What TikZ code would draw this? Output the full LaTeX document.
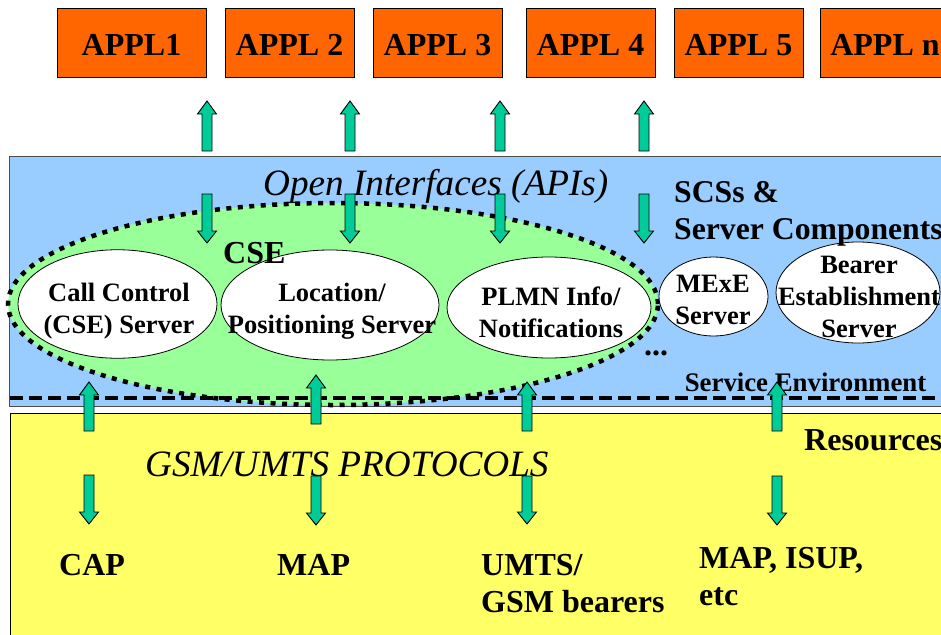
\documentclass[tikz,border=0pt]{standalone}
\usepackage{fontspec}
\setmainfont{Liberation Serif}
\usetikzlibrary{shapes.geometric}
\definecolor{appl}{HTML}{FF6600}
\definecolor{bandblue}{HTML}{99CCFF}
\definecolor{cse}{HTML}{99FF99}
\definecolor{yel}{HTML}{FFFF66}
\definecolor{arr}{HTML}{00CC99}
\tikzset{x=1pt,y=-1pt,
  applbox/.style={draw=black,fill=appl,line width=0.9pt,text height=48pt,text depth=21pt,inner sep=0,outer sep=0,anchor=base,font=\bfseries\fontsize{32}{32}\selectfont},
  srv/.style={draw=black,fill=white,ellipse,line width=0.8pt,inner sep=0},
  srvtext/.style={inner sep=0,align=center,font=\bfseries\fontsize{26.5}{32}\selectfont},
  lbl/.style={inner sep=0,align=left,font=\bfseries\fontsize{32}{37}\selectfont},
  ital/.style={inner sep=0,font=\itshape\fontsize{37.2}{37}\selectfont},
  arrowshape/.style={draw=black,fill=arr,line width=0.9pt}}
\newcommand{\uparr}[3]{\draw[arrowshape] (#1-5,#3) -- (#1-5,#2+13) -- (#1-9.5,#2+13) -- (#1,#2) -- (#1+9.5,#2+13) -- (#1+5,#2+13) -- (#1+5,#3) -- cycle;}
\newcommand{\dnarr}[3]{\draw[arrowshape] (#1-5,#2) -- (#1-5,#3-12) -- (#1-9.5,#3-12) -- (#1,#3) -- (#1+9.5,#3-12) -- (#1+5,#3-12) -- (#1+5,#2) -- cycle;}
\begin{document}
\begin{tikzpicture}
\useasboundingbox (0,0) rectangle (941,634);
\path[fill=white] (0,0) rectangle (941,634);
% application boxes
\node[applbox,minimum width=149pt] (a1) at (131.5,56) {APPL1};
\node[applbox,minimum width=129pt] (a2) at (289.5,56) {APPL 2};
\node[applbox,minimum width=129pt] (a3) at (437.5,56) {APPL 3};
\node[applbox,minimum width=129pt] (a4) at (590.5,56) {APPL 4};
\node[applbox,minimum width=129pt] (a5) at (738.5,56) {APPL 5};
\node[applbox,minimum width=130pt] (an) at (885,56) {APPL n};
% bands
\path[draw=black!70,fill=bandblue,line width=0.9pt] (9.5,156) -- (950,156) -- (950,406) -- (9.5,406) -- cycle;
\path[draw=black,fill=yel,line width=0.9pt] (10,413) -- (950,413) -- (950,650) -- (10,650) -- cycle;
\foreach \x in {207,350,500,644}{ \uparr{\x}{101}{151} }
\node[ital,anchor=base west] (oi) at (263,195) {Open Interfaces (APIs)};
% CSE region
\node[ellipse,fill=cse,draw=black,line width=4.5pt,outer sep=0,minimum width=650pt,minimum height=202pt,inner sep=0,dash pattern=on 5pt off 6.5pt] (cse) at (333,304) {};
\draw[line width=3.4pt,dash pattern=on 13pt off 6pt] (10,398) -- (941,398);
\foreach \x in {207,350,500,644}{ \dnarr{\x}{194}{243} }
% servers
\node[srv,minimum width=199pt,minimum height=108.5pt] (cc) at (117.5,304) {};
\node[srv,minimum width=218pt,minimum height=110pt] (lp) at (330,305) {};
\node[srv,minimum width=204pt,minimum height=101pt] (pl) at (549,307.5) {};
\node[srv,minimum width=109pt,minimum height=79pt] (me) at (713.5,296.5) {};
\node[srv,minimum width=164pt,minimum height=101pt] (be) at (858,292.5) {};
\node[srvtext,anchor=base] (cct) at (119,333) {Call Control\\(CSE) Server};
\node[srvtext,anchor=base] (lpt) at (332,333) {Location/\\Positioning Server};
\node[srvtext,anchor=base] (plt) at (551,337) {PLMN Info/\\Notifications};
\node[srvtext,anchor=base] (met) at (713,324) {MExE\\Server};
\node[srvtext,anchor=base] (bet) at (859,337) {Bearer\\Establishment\\Server};
\node[lbl,anchor=base west] (cl) at (223,263) {CSE};
\node[lbl,anchor=base west] (dots) at (644,355) {...};
\node[lbl,anchor=base west,font=\bfseries\fontsize{31.7}{37}\selectfont] (scs) at (674,239) {SCSs \&\\Server Components};
\node[inner sep=0,font=\bfseries\fontsize{26.8}{27}\selectfont,anchor=base] (se) at (805.5,391) {Service Environment};
\node[lbl,anchor=base west] (res) at (804,450) {Resources};
\node[ital,anchor=base west] (gsm) at (145,476) {GSM/UMTS PROTOCOLS};
% lower arrows
\foreach \x/\a/\b in {89/382/431,316/375/424,527/382/431,777/382/431}{ \uparr{\x}{\a}{\b} }
\foreach \x/\a/\b in {89/475/524,316/476/525,527/476/524,777/476/525}{ \dnarr{\x}{\a}{\b} }
\node[lbl,anchor=base west] (cap) at (59,575) {CAP};
\node[lbl,anchor=base west] (map) at (277,575) {MAP};
\node[lbl,anchor=base west] (um) at (481,612) {UMTS/\\GSM bearers};
\node[lbl,anchor=base west] (mi) at (699,605) {MAP, ISUP,\\etc};
\end{tikzpicture}
\end{document}
